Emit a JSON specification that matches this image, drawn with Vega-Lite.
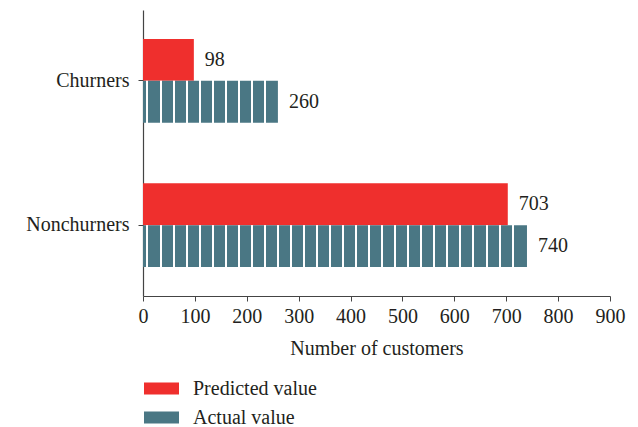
{
  "$schema": "https://vega.github.io/schema/vega-lite/v6.json",
  "autosize": {"type": "none"},
  "padding": {"left": 143, "top": 10, "right": 28, "bottom": 131},
  "width": 467,
  "height": 286,
  "background": "white",
  "config": {
    "font": "Liberation Serif",
    "view": {"stroke": null},
    "axis": {"labelFont": "Liberation Serif", "titleFont": "Liberation Serif", "labelColor": "#231f20", "titleColor": "#231f20", "domainColor": "#444", "tickColor": "#444", "grid": false, "labelFontSize": 20, "titleFontSize": 20, "titleFontWeight": "normal"},
    "legend": {"labelFont": "Liberation Serif", "labelFontSize": 20, "labelColor": "#231f20"}
  },
  "data": {
    "values": [
      {"group": "Churners", "series": "Predicted value", "value": 98},
      {"group": "Churners", "series": "Actual value", "value": 260},
      {"group": "Nonchurners", "series": "Predicted value", "value": 703},
      {"group": "Nonchurners", "series": "Actual value", "value": 740}
    ]
  },
  "encoding": {
    "y": {"field": "group", "type": "nominal", "sort": ["Churners", "Nonchurners"], "scale": {"paddingInner": 0.42, "paddingOuter": 0.2}, "axis": {"title": null, "tickSize": 5, "labelPadding": 9, "domainWidth": 1.2}},
    "yOffset": {"field": "series", "type": "nominal", "sort": ["Predicted value", "Actual value"], "scale": {"domain": ["Predicted value", "Actual value"], "paddingInner": 0, "paddingOuter": 0}},
    "x": {"field": "value", "type": "quantitative", "scale": {"domain": [0, 900], "nice": false}, "axis": {"title": "Number of customers", "values": [0,100,200,300,400,500,600,700,800,900], "tickSize": 5, "labelPadding": 5, "titlePadding": 12, "domainWidth": 1.2, "labelFlush": false}}
  },
  "layer": [
    {
      "transform": [{"filter": "datum.series === 'Predicted value'"}],
      "mark": {"type": "bar", "opacity": 1},
      "encoding": {
        "color": {"field": "series", "type": "nominal", "scale": {"domain": ["Predicted value", "Actual value"], "range": ["#ef2f2d", "#4a7784"]},
          "legend": {
            "title": null, "orient": "none", "legendX": 0, "legendY": 360, "direction": "vertical",
            "symbolType": "M-1,-0.343H1V0.343H-1Z", "symbolSize": 1225, "labelOffset": 13, "rowPadding": -9, "labelLimit": 300,
            "encode": {"symbols": {
              "fill": {"condition": {"test": "datum.value === 'Actual value'", "value": {"gradient": "linear", "x1": 0, "y1": 0, "x2": 1, "y2": 0, "stops": [
                {"offset": 0, "color": "#4a7784"},
                {"offset": 0.17, "color": "#4a7784"}, {"offset": 0.17, "color": "#ffffff"}, {"offset": 0.23, "color": "#ffffff"}, {"offset": 0.23, "color": "#4a7784"},
                {"offset": 0.46, "color": "#4a7784"}, {"offset": 0.46, "color": "#ffffff"}, {"offset": 0.52, "color": "#ffffff"}, {"offset": 0.52, "color": "#4a7784"},
                {"offset": 0.74, "color": "#4a7784"}, {"offset": 0.74, "color": "#ffffff"}, {"offset": 0.80, "color": "#ffffff"}, {"offset": 0.80, "color": "#4a7784"},
                {"offset": 1, "color": "#4a7784"}]}}, "value": "#ef2f2d"},
              "opacity": {"value": 1}
            }}
          }
        }
      }
    },
    {
      "transform": [{"filter": "datum.series === 'Actual value' && datum.group === 'Churners'"}],
      "mark": {"type": "bar", "fill": {"gradient": "linear", "x1": 0, "y1": 0, "x2": 1, "y2": 0, "stops": [
        {"offset": 0, "color": "#4a7784"},
        {"offset": 0.0259, "color": "#4a7784"}, {"offset": 0.0259, "color": "#ffffff"}, {"offset": 0.0407, "color": "#ffffff"}, {"offset": 0.0407, "color": "#4a7784"},
        {"offset": 0.1225, "color": "#4a7784"}, {"offset": 0.1225, "color": "#ffffff"}, {"offset": 0.1373, "color": "#ffffff"}, {"offset": 0.1373, "color": "#4a7784"},
        {"offset": 0.2191, "color": "#4a7784"}, {"offset": 0.2191, "color": "#ffffff"}, {"offset": 0.2339, "color": "#ffffff"}, {"offset": 0.2339, "color": "#4a7784"},
        {"offset": 0.3157, "color": "#4a7784"}, {"offset": 0.3157, "color": "#ffffff"}, {"offset": 0.3305, "color": "#ffffff"}, {"offset": 0.3305, "color": "#4a7784"},
        {"offset": 0.4123, "color": "#4a7784"}, {"offset": 0.4123, "color": "#ffffff"}, {"offset": 0.4271, "color": "#ffffff"}, {"offset": 0.4271, "color": "#4a7784"},
        {"offset": 0.5089, "color": "#4a7784"}, {"offset": 0.5089, "color": "#ffffff"}, {"offset": 0.5237, "color": "#ffffff"}, {"offset": 0.5237, "color": "#4a7784"},
        {"offset": 0.6055, "color": "#4a7784"}, {"offset": 0.6055, "color": "#ffffff"}, {"offset": 0.6203, "color": "#ffffff"}, {"offset": 0.6203, "color": "#4a7784"},
        {"offset": 0.7021, "color": "#4a7784"}, {"offset": 0.7021, "color": "#ffffff"}, {"offset": 0.7169, "color": "#ffffff"}, {"offset": 0.7169, "color": "#4a7784"},
        {"offset": 0.7987, "color": "#4a7784"}, {"offset": 0.7987, "color": "#ffffff"}, {"offset": 0.8135, "color": "#ffffff"}, {"offset": 0.8135, "color": "#4a7784"},
        {"offset": 0.8953, "color": "#4a7784"}, {"offset": 0.8953, "color": "#ffffff"}, {"offset": 0.9101, "color": "#ffffff"}, {"offset": 0.9101, "color": "#4a7784"},
        {"offset": 1, "color": "#4a7784"}]}},
      "encoding": {}
    },
    {
      "transform": [{"filter": "datum.series === 'Actual value' && datum.group === 'Nonchurners'"}],
      "mark": {"type": "bar", "fill": {"gradient": "linear", "x1": 0, "y1": 0, "x2": 1, "y2": 0, "stops": [
        {"offset": 0, "color": "#4a7784"},
        {"offset": 0.00911, "color": "#4a7784"}, {"offset": 0.00911, "color": "#ffffff"}, {"offset": 0.01432, "color": "#ffffff"}, {"offset": 0.01432, "color": "#4a7784"},
        {"offset": 0.04307, "color": "#4a7784"}, {"offset": 0.04307, "color": "#ffffff"}, {"offset": 0.04828, "color": "#ffffff"}, {"offset": 0.04828, "color": "#4a7784"},
        {"offset": 0.07703, "color": "#4a7784"}, {"offset": 0.07703, "color": "#ffffff"}, {"offset": 0.08224, "color": "#ffffff"}, {"offset": 0.08224, "color": "#4a7784"},
        {"offset": 0.11099, "color": "#4a7784"}, {"offset": 0.11099, "color": "#ffffff"}, {"offset": 0.11620, "color": "#ffffff"}, {"offset": 0.11620, "color": "#4a7784"},
        {"offset": 0.14495, "color": "#4a7784"}, {"offset": 0.14495, "color": "#ffffff"}, {"offset": 0.15016, "color": "#ffffff"}, {"offset": 0.15016, "color": "#4a7784"},
        {"offset": 0.17891, "color": "#4a7784"}, {"offset": 0.17891, "color": "#ffffff"}, {"offset": 0.18411, "color": "#ffffff"}, {"offset": 0.18411, "color": "#4a7784"},
        {"offset": 0.21286, "color": "#4a7784"}, {"offset": 0.21286, "color": "#ffffff"}, {"offset": 0.21807, "color": "#ffffff"}, {"offset": 0.21807, "color": "#4a7784"},
        {"offset": 0.24682, "color": "#4a7784"}, {"offset": 0.24682, "color": "#ffffff"}, {"offset": 0.25203, "color": "#ffffff"}, {"offset": 0.25203, "color": "#4a7784"},
        {"offset": 0.28078, "color": "#4a7784"}, {"offset": 0.28078, "color": "#ffffff"}, {"offset": 0.28599, "color": "#ffffff"}, {"offset": 0.28599, "color": "#4a7784"},
        {"offset": 0.31474, "color": "#4a7784"}, {"offset": 0.31474, "color": "#ffffff"}, {"offset": 0.31995, "color": "#ffffff"}, {"offset": 0.31995, "color": "#4a7784"},
        {"offset": 0.34870, "color": "#4a7784"}, {"offset": 0.34870, "color": "#ffffff"}, {"offset": 0.35391, "color": "#ffffff"}, {"offset": 0.35391, "color": "#4a7784"},
        {"offset": 0.38266, "color": "#4a7784"}, {"offset": 0.38266, "color": "#ffffff"}, {"offset": 0.38786, "color": "#ffffff"}, {"offset": 0.38786, "color": "#4a7784"},
        {"offset": 0.41661, "color": "#4a7784"}, {"offset": 0.41661, "color": "#ffffff"}, {"offset": 0.42182, "color": "#ffffff"}, {"offset": 0.42182, "color": "#4a7784"},
        {"offset": 0.45057, "color": "#4a7784"}, {"offset": 0.45057, "color": "#ffffff"}, {"offset": 0.45578, "color": "#ffffff"}, {"offset": 0.45578, "color": "#4a7784"},
        {"offset": 0.48453, "color": "#4a7784"}, {"offset": 0.48453, "color": "#ffffff"}, {"offset": 0.48974, "color": "#ffffff"}, {"offset": 0.48974, "color": "#4a7784"},
        {"offset": 0.51849, "color": "#4a7784"}, {"offset": 0.51849, "color": "#ffffff"}, {"offset": 0.52370, "color": "#ffffff"}, {"offset": 0.52370, "color": "#4a7784"},
        {"offset": 0.55245, "color": "#4a7784"}, {"offset": 0.55245, "color": "#ffffff"}, {"offset": 0.55766, "color": "#ffffff"}, {"offset": 0.55766, "color": "#4a7784"},
        {"offset": 0.58641, "color": "#4a7784"}, {"offset": 0.58641, "color": "#ffffff"}, {"offset": 0.59161, "color": "#ffffff"}, {"offset": 0.59161, "color": "#4a7784"},
        {"offset": 0.62036, "color": "#4a7784"}, {"offset": 0.62036, "color": "#ffffff"}, {"offset": 0.62557, "color": "#ffffff"}, {"offset": 0.62557, "color": "#4a7784"},
        {"offset": 0.65432, "color": "#4a7784"}, {"offset": 0.65432, "color": "#ffffff"}, {"offset": 0.65953, "color": "#ffffff"}, {"offset": 0.65953, "color": "#4a7784"},
        {"offset": 0.68828, "color": "#4a7784"}, {"offset": 0.68828, "color": "#ffffff"}, {"offset": 0.69349, "color": "#ffffff"}, {"offset": 0.69349, "color": "#4a7784"},
        {"offset": 0.72224, "color": "#4a7784"}, {"offset": 0.72224, "color": "#ffffff"}, {"offset": 0.72745, "color": "#ffffff"}, {"offset": 0.72745, "color": "#4a7784"},
        {"offset": 0.75620, "color": "#4a7784"}, {"offset": 0.75620, "color": "#ffffff"}, {"offset": 0.76141, "color": "#ffffff"}, {"offset": 0.76141, "color": "#4a7784"},
        {"offset": 0.79016, "color": "#4a7784"}, {"offset": 0.79016, "color": "#ffffff"}, {"offset": 0.79536, "color": "#ffffff"}, {"offset": 0.79536, "color": "#4a7784"},
        {"offset": 0.82411, "color": "#4a7784"}, {"offset": 0.82411, "color": "#ffffff"}, {"offset": 0.82932, "color": "#ffffff"}, {"offset": 0.82932, "color": "#4a7784"},
        {"offset": 0.85807, "color": "#4a7784"}, {"offset": 0.85807, "color": "#ffffff"}, {"offset": 0.86328, "color": "#ffffff"}, {"offset": 0.86328, "color": "#4a7784"},
        {"offset": 0.89203, "color": "#4a7784"}, {"offset": 0.89203, "color": "#ffffff"}, {"offset": 0.89724, "color": "#ffffff"}, {"offset": 0.89724, "color": "#4a7784"},
        {"offset": 0.92599, "color": "#4a7784"}, {"offset": 0.92599, "color": "#ffffff"}, {"offset": 0.93120, "color": "#ffffff"}, {"offset": 0.93120, "color": "#4a7784"},
        {"offset": 0.95995, "color": "#4a7784"}, {"offset": 0.95995, "color": "#ffffff"}, {"offset": 0.96516, "color": "#ffffff"}, {"offset": 0.96516, "color": "#4a7784"},
        {"offset": 1, "color": "#4a7784"}]}},
      "encoding": {}
    },
    {
      "mark": {"type": "text", "align": "left", "baseline": "middle", "dx": 11, "fontSize": 20, "font": "Liberation Serif", "color": "#231f20"},
      "encoding": {"text": {"field": "value", "type": "quantitative"}}
    }
  ]
}
